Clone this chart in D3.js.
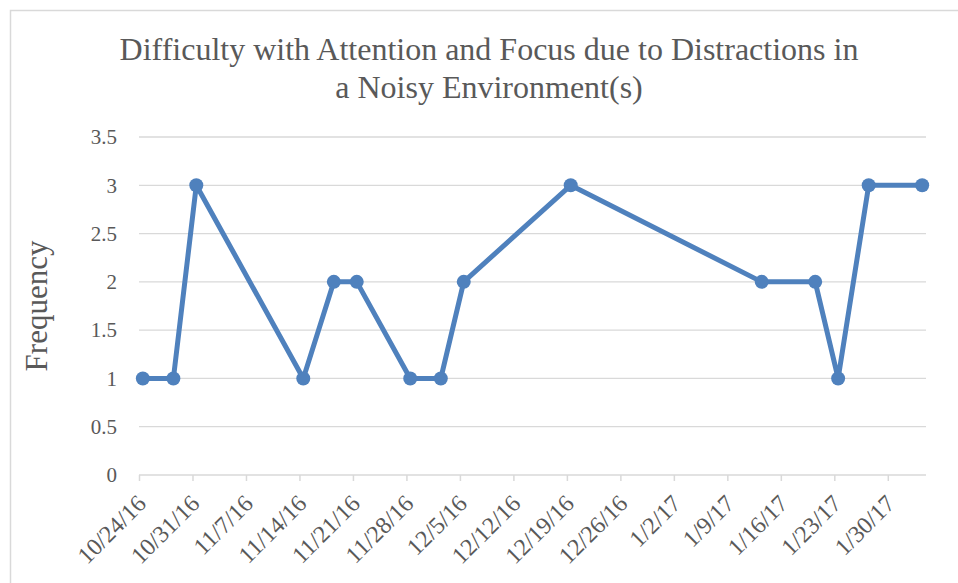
<!DOCTYPE html>
<html>
<head>
<meta charset="utf-8">
<script src="https://cdn.jsdelivr.net/npm/d3@7"></script>
<style>
  body { margin: 0; background: #fff; }
  svg { display: block; }
</style>
</head>
<body>
<div id="chart"></div>
<script>
// data
var dates = ["2016-10-24", "2016-10-28", "2016-10-31", "2016-11-14", "2016-11-18",
  "2016-11-21", "2016-11-28", "2016-12-02", "2016-12-05", "2016-12-19",
  "2017-01-13", "2017-01-20", "2017-01-23", "2017-01-27", "2017-02-03"];
var frequency = [1, 1, 3, 1, 2, 2, 1, 1, 2, 3, 2, 2, 1, 3, 3];
var yTicks = [0, 0.5, 1, 1.5, 2, 2.5, 3, 3.5];
var titleLines = ["Difficulty with Attention and Focus due to Distractions in", "a Noisy Environment(s)"];

var w = 958, h = 583;
var plotLeft = 139, plotRight = 926, plotTop = 137, plotBottom = 475;
var serif = "'Liberation Serif', 'Times New Roman', Times, serif";
var blue = "#4f81bd";

var parse = d3.timeParse("%Y-%m-%d");
var fmt = d3.timeFormat("%-m/%-d/%y");
var data = dates.map(function(d, i) { return { date: parse(d), v: frequency[i] }; });

var start = parse("2016-10-24");
var end = d3.timeDay.offset(parse("2017-02-03"), 1);

var svg = d3.select("#chart").append("svg")
  .attr("width", w)
  .attr("height", h)
  .attr("font-family", serif);

// chart border
svg.append("rect")
  .attr("x", 10.5).attr("y", 10.5)
  .attr("width", w + 20).attr("height", h + 20)
  .attr("fill", "none").attr("stroke", "#d9d9d9").attr("stroke-width", 1.5);

var x = d3.scaleTime().domain([start, end]).range([plotLeft, plotRight]);
var y = d3.scaleLinear().domain([0, 3.5]).range([plotBottom, plotTop]);

// gridlines
svg.append("g").selectAll("line")
  .data(yTicks.filter(function(d) { return d > 0; }))
  .enter().append("line")
  .attr("x1", plotLeft).attr("x2", plotRight)
  .attr("y1", function(d) { return y(d); })
  .attr("y2", function(d) { return y(d); })
  .attr("stroke", "#d9d9d9").attr("stroke-width", 1.3);

// y axis labels
var yAxis = d3.axisLeft(y).tickValues(yTicks).tickSize(0).tickPadding(22)
  .tickFormat(function(d) { return d; });
var gy = svg.append("g").attr("transform", "translate(" + plotLeft + ",0)").call(yAxis)
  .attr("font-family", serif);
gy.select(".domain").remove();
gy.selectAll("text").style("font-size", "21px").style("font-family", serif).attr("fill", "#595959");

// x axis, weekly ticks
var weekTicks = d3.timeDay.range(start, end, 7);
var xAxis = d3.axisBottom(x).tickValues(weekTicks).tickSize(6).tickFormat(fmt);
var gx = svg.append("g").attr("transform", "translate(0," + plotBottom + ")").call(xAxis)
  .attr("font-family", serif);
gx.select(".domain").attr("stroke", "#d9d9d9").attr("stroke-width", 1.5)
  .attr("d", "M" + plotLeft + ",0H" + plotRight);
gx.selectAll(".tick line").attr("stroke", "#d9d9d9").attr("stroke-width", 1.5);
gx.selectAll("text")
  .style("font-size", "24px")
  .style("font-family", serif)
  .attr("fill", "#595959")
  .attr("text-anchor", "end")
  .attr("dy", null)
  .attr("y", 0)
  .attr("transform", "translate(8,30) rotate(-45)");

// y title
svg.append("text")
  .attr("transform", "translate(47,306) rotate(-90)")
  .attr("text-anchor", "middle")
  .style("font-size", "31px")
  .style("font-family", serif)
  .attr("fill", "#595959")
  .text("Frequency");

// chart title
svg.append("g").selectAll("text")
  .data(titleLines)
  .enter().append("text")
  .attr("x", 489)
  .attr("y", function(d, i) { return 60 + i * 38; })
  .attr("text-anchor", "middle")
  .style("font-size", "32px")
  .style("font-family", serif)
  .attr("fill", "#595959")
  .text(function(d) { return d; });

// line + markers
var cx = function(d) { return x(d3.timeHour.offset(d.date, 12)); };
var line = d3.line().x(cx).y(function(d) { return y(d.v); });

svg.append("path")
  .datum(data)
  .attr("d", line)
  .attr("fill", "none")
  .attr("stroke", blue)
  .attr("stroke-width", 5)
  .attr("stroke-linejoin", "round");

svg.append("g").selectAll("circle")
  .data(data)
  .enter().append("circle")
  .attr("cx", cx)
  .attr("cy", function(d) { return y(d.v); })
  .attr("r", 7)
  .attr("fill", blue);
</script>
</body>
</html>
